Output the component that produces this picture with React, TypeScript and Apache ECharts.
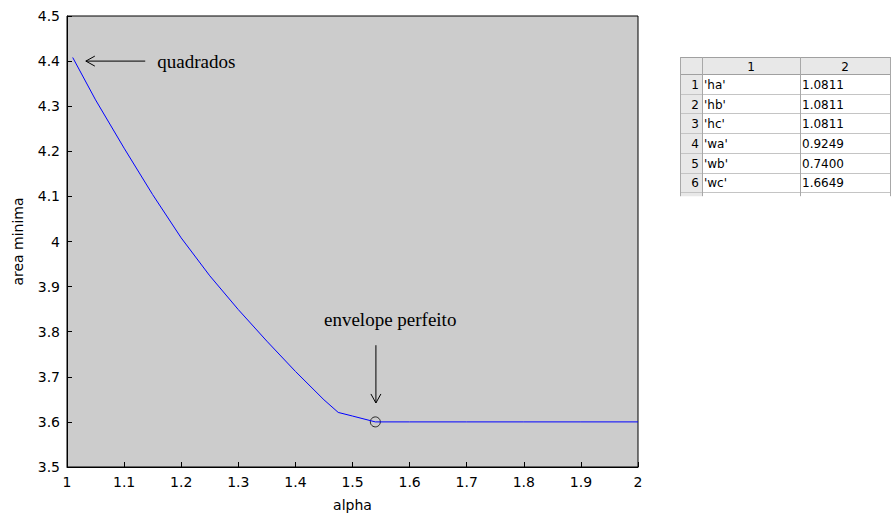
import React, { useEffect, useRef } from 'react';
import * as echarts from 'echarts';

// Curve data: alpha vs minimum area
const alpha = [1.01, 1.05, 1.10, 1.15, 1.20, 1.25, 1.30, 1.35, 1.40, 1.45, 1.475, 1.50, 1.54, 1.6, 1.7, 1.8, 1.9, 2.0];
const areaMinima = [4.408, 4.314, 4.207, 4.104, 4.008, 3.924, 3.849, 3.779, 3.712, 3.649, 3.621, 3.613, 3.600, 3.600, 3.600, 3.600, 3.600, 3.600];
const optimumPoint = [1.54, 3.6];

// Annotations (data coordinates)
const annotationTexts = ['quadrados', 'envelope perfeito'];
const annotationAnchors = [[1.158, 4.4], [1.566, 3.826]];
const annotationAligns = ['left', 'center'];
const arrowStarts = [[1.137, 4.4], [1.541, 3.77]];
const arrowEnds = [[1.033, 4.4], [1.541, 3.642]];

// Table data
const tableColumns = ['1', '2'];
const tableNames = ["'ha'", "'hb'", "'hc'", "'wa'", "'wb'", "'wc'"];
const tableValues = ['1.0811', '1.0811', '1.0811', '0.9249', '0.7400', '1.6649'];

export default function App() {
  const ref = useRef<HTMLDivElement>(null);
  useEffect(() => {
    const chart = echarts.init(ref.current!, null, { renderer: 'svg' });
    const axisFont = { fontFamily: 'DejaVu Sans', fontSize: 14, color: '#000' };
    const fmt = (v: number) => String(parseFloat(v.toFixed(1)));
    chart.setOption({
      animation: false,
      backgroundColor: '#ffffff',
      grid: {
        left: 67, top: 16, right: 253, bottom: 47,
        containLabel: false, outerBoundsMode: 'none',
        show: true, backgroundColor: '#cccccc', borderColor: '#000', borderWidth: 1,
      },
      xAxis: {
        type: 'value', min: 1, max: 2, interval: 0.1,
        name: 'alpha', nameLocation: 'middle', nameGap: 31,
        nameTextStyle: { ...axisFont },
        axisLine: { onZero: false, lineStyle: { color: '#000', width: 1 } },
        axisTick: { inside: true, length: 5, lineStyle: { color: '#000' } },
        axisLabel: { ...axisFont, margin: 8, formatter: fmt },
        splitLine: { show: false },
      },
      yAxis: {
        type: 'value', min: 3.5, max: 4.5, interval: 0.1,
        name: 'area minima', nameLocation: 'middle', nameGap: 42,
        nameTextStyle: { ...axisFont },
        axisLine: { show: true, onZero: false, lineStyle: { color: '#000', width: 1 } },
        axisTick: { show: true, inside: true, length: 5, lineStyle: { color: '#000' } },
        axisLabel: { ...axisFont, margin: 7, formatter: fmt },
        splitLine: { show: false },
      },
      series: [
        {
          type: 'line',
          data: alpha.map((a, i) => [a, areaMinima[i]]),
          showSymbol: false,
          lineStyle: { color: '#0000ff', width: 1 },
          itemStyle: { color: '#0000ff' },
        },
        {
          type: 'scatter',
          data: [optimumPoint],
          symbol: 'circle',
          symbolSize: 10,
          itemStyle: { color: 'rgba(0,0,0,0)', borderColor: '#000', borderWidth: 1 },
        },
      ],
    });

    const p = (c: number[]) => chart.convertToPixel({ gridIndex: 0 }, c) as number[];
    const elements: any[] = [];

    annotationTexts.forEach((t, i) => {
      const [x, y] = p(annotationAnchors[i]);
      elements.push({
        type: 'text', x, y,
        style: {
          text: t, fill: '#000', fontFamily: 'Liberation Serif', fontSize: 19,
          align: annotationAligns[i], verticalAlign: 'middle',
        },
      });
      const s = p(arrowStarts[i]);
      const e = p(arrowEnds[i]);
      const dx = s[0] - e[0], dy = s[1] - e[1];
      const len = Math.hypot(dx, dy);
      const ux = dx / len, uy = dy / len;
      const nx = -uy, ny = ux;
      elements.push({
        type: 'line',
        shape: { x1: s[0], y1: s[1], x2: e[0], y2: e[1] },
        style: { stroke: '#000', lineWidth: 1 },
      });
      elements.push({
        type: 'polyline',
        shape: {
          points: [
            [e[0] + ux * 9 + nx * 5, e[1] + uy * 9 + ny * 5],
            [e[0], e[1]],
            [e[0] + ux * 9 - nx * 5, e[1] + uy * 9 - ny * 5],
          ],
        },
        style: { stroke: '#000', lineWidth: 1, fill: 'none' },
      });
    });

    // Table
    const tx = 680, ty = 57, numW = 22, c1W = 98, c2W = 90, headH = 17, rowH = 19.7;
    const W = numW + c1W + c2W;
    const n = tableNames.length;
    const bodyBottom = ty + headH + n * rowH;
    const tFont = { fontFamily: 'DejaVu Sans', fontSize: 12, fill: '#000' };
    elements.push({ type: 'rect', shape: { x: tx, y: ty, width: W, height: headH }, style: { fill: '#e8e8e8' } });
    elements.push({ type: 'rect', shape: { x: tx, y: ty + headH, width: numW, height: n * rowH + 4 }, style: { fill: '#e8e8e8' } });
    elements.push({ type: 'rect', shape: { x: tx + numW, y: ty + headH, width: c1W + c2W, height: n * rowH }, style: { fill: '#ffffff' } });
    tableColumns.forEach((c, i) => {
      const cx = i === 0 ? tx + numW + c1W / 2 : tx + numW + c1W + c2W / 2;
      elements.push({ type: 'text', x: cx, y: ty + headH / 2 + 1, style: { ...tFont, text: c, align: 'center', verticalAlign: 'middle' } });
    });
    for (let i = 0; i < n; i++) {
      const cy = ty + headH + i * rowH + rowH / 2 + 1;
      elements.push({ type: 'text', x: tx + numW - 3, y: cy, style: { ...tFont, text: String(i + 1), align: 'right', verticalAlign: 'middle' } });
      elements.push({ type: 'text', x: tx + numW + 2, y: cy, style: { ...tFont, text: tableNames[i], align: 'left', verticalAlign: 'middle' } });
      elements.push({ type: 'text', x: tx + numW + c1W + 2, y: cy, style: { ...tFont, text: tableValues[i], align: 'left', verticalAlign: 'middle' } });
    }
    const hLines = [ty, ty + headH];
    for (let i = 1; i <= n; i++) hLines.push(ty + headH + i * rowH);
    hLines.forEach((y, i) => {
      elements.push({
        type: 'line',
        shape: { x1: tx, y1: Math.round(y) + 0.5, x2: tx + W, y2: Math.round(y) + 0.5 },
        style: { stroke: i < 2 ? '#a0a0a0' : '#c4c4c4', lineWidth: 1 },
      });
    });
    [tx, tx + numW, tx + numW + c1W, tx + W].forEach((x) => {
      elements.push({
        type: 'line',
        shape: { x1: x + 0.5, y1: ty, x2: x + 0.5, y2: bodyBottom + 4 },
        style: { stroke: '#a8a8a8', lineWidth: 1 },
      });
    });

    chart.setOption({ graphic: { elements } });
    return () => chart.dispose();
  }, []);
  return (
    <div
      ref={ref}
      style={{ position: 'fixed', left: 0, top: 0, width: 891, height: 514, background: '#fff' }}
    />
  );
}
